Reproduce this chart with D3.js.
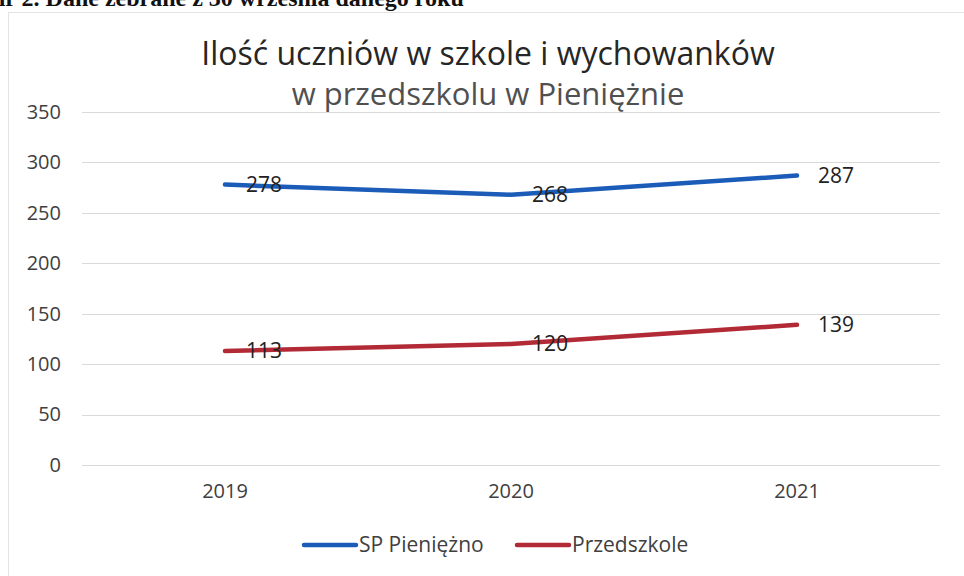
<!DOCTYPE html>
<html>
<head>
<meta charset="utf-8">
<script src="https://cdn.jsdelivr.net/npm/d3@7"></script>
<style>
  body { margin: 0; background: #fff; }
  svg { display: block; }
</style>
</head>
<body>
<svg id="chart" width="964" height="576"></svg>
<script>
const years = ["2019", "2020", "2021"];
const spValues = [278, 268, 287];
const przedValues = [113, 120, 139];
const yTicks = [0, 50, 100, 150, 200, 250, 300, 350];
const seriesNames = ["SP Pieniężno", "Przedszkole"];
const titleLines = ["Ilość uczniów w szkole i wychowanków", "w przedszkolu w Pieniężnie"];

const series = [
  { name: seriesNames[0], values: spValues, color: "#1b5cb9" },
  { name: seriesNames[1], values: przedValues, color: "#b22a36" },
];

const font = "'Open Sans', sans-serif";
const textColor = "#404040";

const svg = d3.select("#chart");

// header line of the scanned page, mostly cut off at top
svg.append("text")
  .attr("x", -8)
  .attr("y", 6)
  .style("font-family", "'Liberation Serif', serif")
  .style("font-weight", "bold")
  .style("font-size", "24px")
  .style("fill", "#111")
  .text("nr 2.  Dane zebrane z 30 września danego roku");

// chart frame
svg.append("rect")
  .attr("x", 8.5)
  .attr("y", 12.5)
  .attr("width", 980)
  .attr("height", 600)
  .attr("fill", "none")
  .attr("stroke", "#e3e3e3");

const margin = { left: 82, right: 24, top: 112, bottom: 111 };
const width = 964 - margin.left - margin.right;
const height = 576 - margin.top - margin.bottom;

const x = d3.scaleBand().domain(years).range([margin.left, margin.left + width]);
const y = d3.scaleLinear().domain([0, 350]).range([margin.top + height, margin.top]);

// gridlines
svg.append("g")
  .selectAll("line")
  .data(yTicks)
  .join("line")
  .attr("x1", margin.left)
  .attr("x2", margin.left + width)
  .attr("y1", (d) => Math.round(y(d)) + 0.5)
  .attr("y2", (d) => Math.round(y(d)) + 0.5)
  .attr("stroke", "#d9d9d9")
  .attr("stroke-width", 1.2);

// y axis labels
const yAxis = svg.append("g")
  .attr("transform", `translate(${margin.left - 21},0)`)
  .call(d3.axisLeft(y).tickValues(yTicks).tickSize(0).tickPadding(0));
yAxis.select(".domain").remove();
yAxis.selectAll("text")
  .style("font-family", font)
  .style("font-size", "20px")
  .style("fill", textColor);

// x axis labels
const xAxis = svg.append("g")
  .attr("transform", `translate(0,${margin.top + height})`)
  .call(d3.axisBottom(x).tickSize(0).tickPadding(19));
xAxis.select(".domain").remove();
xAxis.selectAll("text")
  .style("font-family", font)
  .style("font-size", "20px")
  .style("fill", textColor);

// title
svg.append("text")
  .attr("x", 488)
  .attr("y", 65)
  .attr("text-anchor", "middle")
  .style("font-family", font)
  .style("font-size", "32px")
  .style("fill", "#262626")
  .text(titleLines[0]);
svg.append("text")
  .attr("x", 488)
  .attr("y", 105)
  .attr("text-anchor", "middle")
  .style("font-family", font)
  .style("font-size", "31px")
  .style("fill", "#505050")
  .text(titleLines[1]);

const cx = (d, i) => x(years[i]) + x.bandwidth() / 2;

const line = d3.line()
  .x((d, i) => cx(d, i))
  .y((d) => y(d));

series.forEach((s) => {
  svg.append("path")
    .datum(s.values)
    .attr("d", line)
    .attr("fill", "none")
    .attr("stroke", s.color)
    .attr("stroke-width", 4.5)
    .attr("stroke-linecap", "round")
    .attr("stroke-linejoin", "round");
});

// data labels, right of each point
series.forEach((s) => {
  svg.append("g")
    .selectAll("text")
    .data(s.values)
    .join("text")
    .attr("x", (d, i) => cx(d, i) + 21)
    .attr("y", (d) => y(d))
    .attr("dy", "0.35em")
    .style("font-family", font)
    .style("font-size", "21px")
    .style("fill", "#222")
    .text((d) => d);
});

// legend
const legend = svg.append("g").attr("transform", "translate(0,545)");
const legendItems = [
  { s: series[0], x: 304 },
  { s: series[1], x: 517 },
];
legendItems.forEach((it) => {
  legend.append("line")
    .attr("x1", it.x)
    .attr("x2", it.x + 52)
    .attr("y1", 0)
    .attr("y2", 0)
    .attr("stroke", it.s.color)
    .attr("stroke-width", 4.5)
    .attr("stroke-linecap", "round");
  legend.append("text")
    .attr("x", it.x + 55)
    .attr("y", 0)
    .attr("dy", "0.35em")
    .style("font-family", font)
    .style("font-size", "21px")
    .style("fill", textColor)
    .text(it.s.name);
});
</script>
</body>
</html>
